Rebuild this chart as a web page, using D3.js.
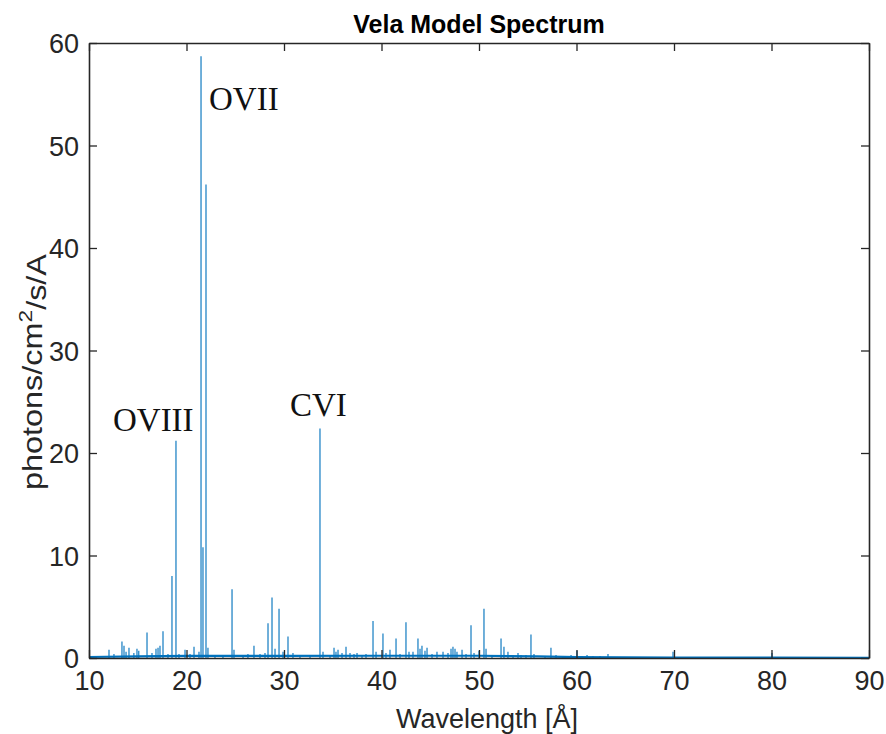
<!DOCTYPE html>
<html><head><meta charset="utf-8">
<script src="https://cdn.jsdelivr.net/npm/d3@7"></script>
<style>body{margin:0;background:#fff}</style>
</head><body>
<svg id="c" width="886" height="734"></svg>
<script>
// Emission line wavelengths (Å) and peak fluxes (photons/cm^2/s/A)
const lineWavelengths = [12.05,12.56,13.38,13.59,13.8,14.1,14.6,14.92,15.1,15.95,16.46,16.87,17.08,17.28,17.59,18.1,18.51,18.92,19.23,19.85,20.36,20.77,21.28,21.49,21.69,22.0,22.2,22.92,23.74,24.67,24.87,25.8,26.3,26.92,27.54,28.05,28.36,28.77,29.08,29.49,29.9,30.41,30.92,31.64,32.67,33.69,34.0,34.72,35.13,35.33,35.54,35.95,36.36,36.77,37.18,37.49,38.0,38.41,39.13,39.44,40.15,40.46,40.87,41.49,41.9,42.51,42.82,43.23,43.74,43.95,44.15,44.46,44.67,45.18,45.69,46.31,46.82,47.13,47.33,47.54,47.74,48.26,48.67,49.18,49.49,50.0,50.51,50.72,51.33,52.26,52.56,52.97,53.49,54.0,54.31,54.82,55.33,55.64,56.77,57.38,57.9,58.82,59.44,60.05,61.08,61.69,62.41,63.23,64.5,66.5,68.6,69.9,72.7,80.05];
const lineFluxes = [0.8,0.4,1.6,1.2,0.6,1.0,0.5,0.9,0.7,2.5,0.5,0.9,1.0,1.2,2.6,0.4,8.0,21.2,0.4,0.8,0.4,1.1,0.6,58.7,10.8,46.2,1.0,0.3,0.3,6.7,0.8,0.3,0.4,1.2,0.4,0.5,3.4,5.9,0.9,4.8,0.6,2.1,0.5,0.3,0.3,22.4,0.6,0.3,1.0,0.6,0.8,0.5,1.1,0.5,0.4,0.5,0.3,0.4,3.6,0.6,2.4,0.5,0.8,1.9,0.4,3.5,0.6,0.6,1.9,0.9,1.2,0.7,1.0,0.4,0.6,0.6,0.5,0.9,1.1,0.9,0.6,0.8,0.4,3.2,0.5,0.7,4.8,0.9,0.3,1.9,1.1,0.6,0.3,0.5,0.3,0.3,2.3,0.4,0.2,1.0,0.3,0.2,0.3,0.7,0.3,0.2,0.2,0.4,0.1,0.1,0.1,0.6,0.05,0.5];
// Weak continuum level
const contWavelengths = [10,15,20,30,40,50,56,60,70,80,90];
const contFluxes = [0.1,0.15,0.2,0.2,0.22,0.22,0.15,0.08,0.04,0.03,0.02];
const xTicks = [10,20,30,40,50,60,70,80,90];
const yTicks = [0,10,20,30,40,50,60];
const annotations = [
  {text:"OVIII", wl:18.92, flux:21.2},
  {text:"OVII", wl:21.49, flux:58.7},
  {text:"CVI", wl:33.69, flux:22.4}
];

const W=886,H=734, m={l:89,r:17,t:43,b:76};
const svg=d3.select("#c");
const x=d3.scaleLinear().domain([10,90]).range([m.l,W-m.r]);
const y=d3.scaleLinear().domain([0,60]).range([H-m.b,m.t]);
const blue="#0072BD", axc="#262626";
const sans="'Liberation Sans', Arial, sans-serif";

// continuum
const cont=contWavelengths.map((w,i)=>[w,contFluxes[i]]);
svg.append("path").attr("d",d3.line().x(d=>x(d[0])).y(d=>y(d[1]))(cont))
  .attr("fill","none").attr("stroke",blue).attr("stroke-width",2.2);
// lines
svg.append("g").selectAll("line").data(lineWavelengths.map((w,i)=>[w,lineFluxes[i]]))
  .join("line")
  .attr("x1",d=>x(d[0])).attr("x2",d=>x(d[0]))
  .attr("y1",y(0)).attr("y2",d=>y(d[1]))
  .attr("stroke",blue).attr("stroke-width",1.4).attr("stroke-opacity",0.8);

// axes with inner ticks on all four sides
const tl=8;
const gB=svg.append("g").attr("transform",`translate(0,${y(0)})`)
  .call(d3.axisBottom(x).tickValues(xTicks).tickSizeInner(-tl).tickSizeOuter(0).tickPadding(13));
const gT=svg.append("g").attr("transform",`translate(0,${y(60)})`)
  .call(d3.axisTop(x).tickValues(xTicks).tickSizeInner(-tl).tickSizeOuter(0).tickFormat(""));
const gL=svg.append("g").attr("transform",`translate(${x(10)},0)`)
  .call(d3.axisLeft(y).tickValues(yTicks).tickSizeInner(-tl).tickSizeOuter(0).tickPadding(10));
const gR=svg.append("g").attr("transform",`translate(${x(90)},0)`)
  .call(d3.axisRight(y).tickValues(yTicks).tickSizeInner(-tl).tickSizeOuter(0).tickFormat(""));
[gB,gT,gL,gR].forEach(g=>{
  g.select(".domain").attr("stroke",axc).attr("stroke-width",1.6);
  g.selectAll(".tick line").attr("stroke",axc).attr("stroke-width",1.3);
  g.selectAll("text").attr("fill",axc).style("font-family",sans).style("font-size","27px");
});
gL.selectAll(".tick text").attr("dy","0.36em");

// title
svg.append("text").attr("x",(x(10)+x(90))/2).attr("y",33).attr("text-anchor","middle")
  .style("font-family",sans).style("font-weight","bold").style("font-size","25px").attr("fill","#000")
  .text("Vela Model Spectrum");
// x label
svg.append("text").attr("x",(x(10)+x(90))/2+8).attr("y",728).attr("text-anchor","middle")
  .style("font-family",sans).style("font-size","27px").attr("fill",axc)
  .text("Wavelength [Å]");
// y label
const yl=svg.append("text").attr("transform",`translate(42,372) rotate(-90) scale(1.2,1)`)
  .attr("text-anchor","middle").style("font-family",sans).style("font-size","27px").attr("fill",axc);
yl.append("tspan").text("photons/cm");
yl.append("tspan").attr("dy","-0.55em").style("font-size","19px").text("2");
yl.append("tspan").attr("dy","0.55em").text("/s/A");

// annotations
const serif="'Liberation Serif','Times New Roman',serif";
const offs={OVIII:[-63,-10],OVII:[8,54],CVI:[-30,-12]};
svg.append("g").selectAll("text").data(annotations).join("text")
  .attr("x",d=>x(d.wl)+offs[d.text][0]).attr("y",d=>y(d.flux)+offs[d.text][1])
  .style("font-family",serif).style("font-size","33px").attr("fill","#111")
  .text(d=>d.text);
</script>
</body></html>
